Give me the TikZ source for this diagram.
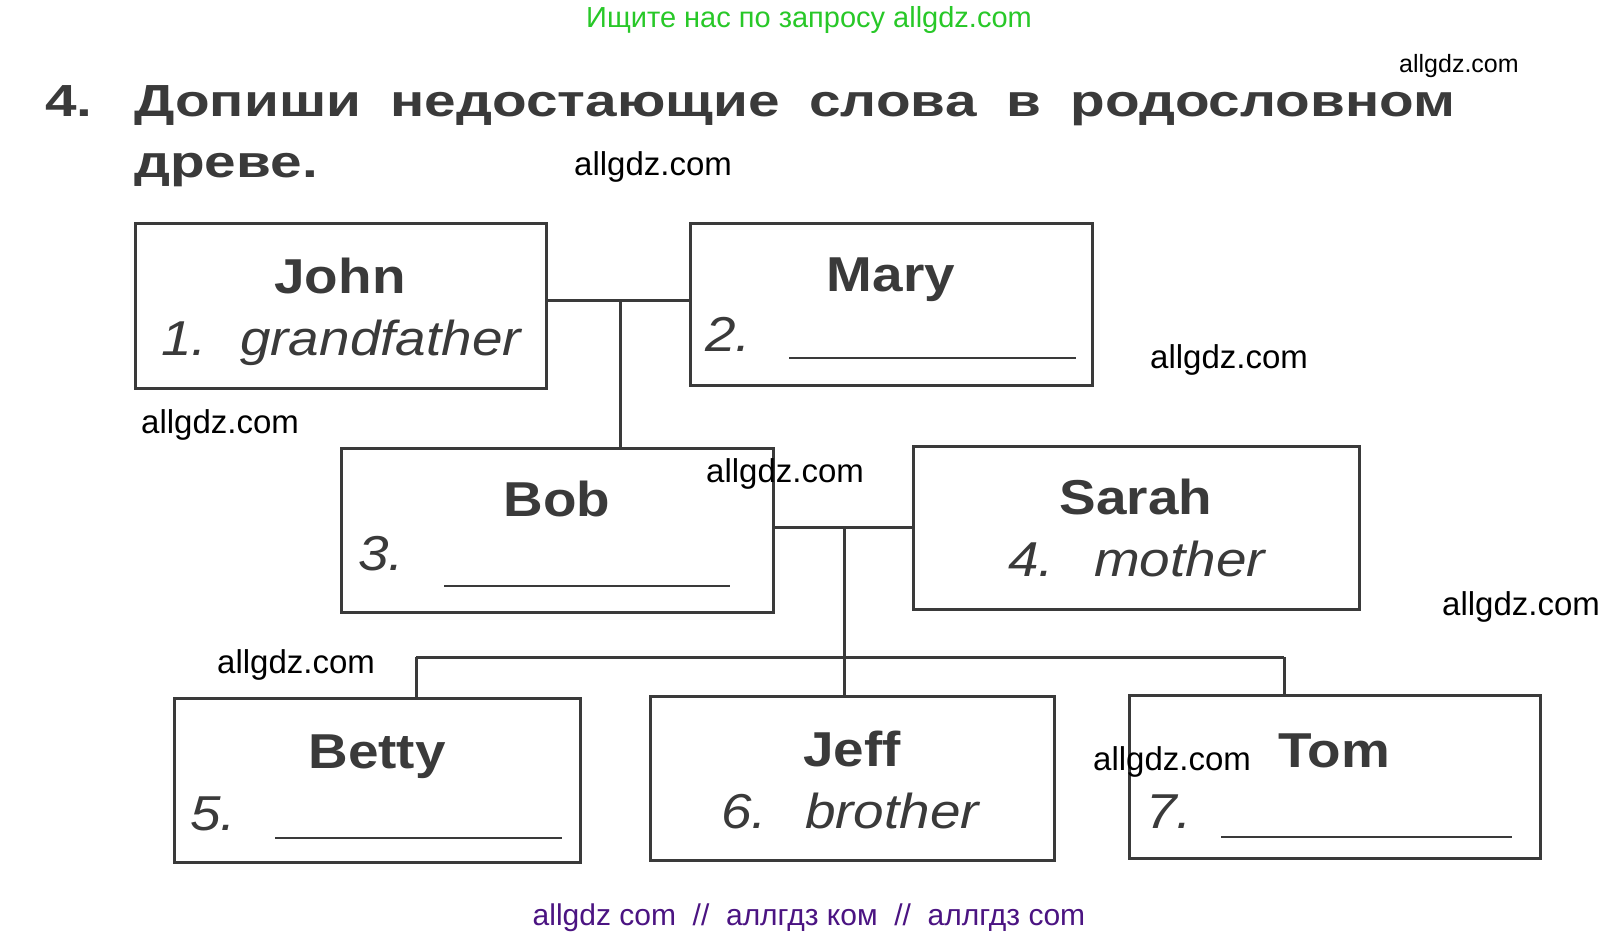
\documentclass[tikz,border=0pt]{standalone}
\usepackage{fontspec}
\setmainfont{Liberation Sans}
\newfontfamily\boxfont[FakeStretch=1.12]{Liberation Sans}
\newfontfamily\titlefont[FakeStretch=1.26]{Liberation Sans}
\newfontfamily\wmfont{Liberation Sans}
\definecolor{ink}{RGB}{58,58,58}
\definecolor{wmgreen}{RGB}{40,200,40}
\definecolor{wmpurple}{RGB}{75,20,130}
\tikzset{
  person/.style={draw=ink, line width=3pt, fill=none, inner sep=0pt},
  link/.style={draw=ink, line width=3pt},
  blank/.style={draw=ink, line width=2.4pt},
  pname/.style={inner sep=0pt, anchor=base, text=ink, font=\boxfont\bfseries\fontsize{49}{58}\selectfont},
  pnum/.style={inner sep=0pt, anchor=base west, text=ink, font=\boxfont\itshape\fontsize{49}{58}\selectfont},
  wm/.style={inner sep=0pt, anchor=base west, text=black, font=\wmfont\fontsize{33}{38}\selectfont},
  ttl/.style={inner sep=0pt, anchor=base west, text=ink, font=\titlefont\bfseries\fontsize{45}{52}\selectfont}
}
\begin{document}
\begin{tikzpicture}[x=1pt,y=-1pt]
\useasboundingbox (0,0) rectangle (1620,938);
\fill[white] (0,0) rectangle (1620,938);

% top watermark
\node[inner sep=0pt, anchor=base, text=wmgreen, font=\wmfont\fontsize{29}{34}\selectfont] (topwm) at (809,27) {Ищите нас по запросу allgdz.com};

% title
\node[ttl] (tnum) at (45,116) {4.};
\node[ttl] (tl1) at (134,116) {\makebox[1321pt][s]{Допиши недостающие слова в родословном}};
\node[ttl] (tl2) at (134,177) {древе.};

% boxes
\draw[person] (135,223) rectangle (546,388);
\node[person, draw=none, minimum width=411pt, minimum height=165pt] (John) at (340.5,305.5) {};
\draw[person] (690,223) rectangle (1092,385);
\node[person, draw=none, minimum width=402pt, minimum height=162pt] (Mary) at (891,304) {};
\draw[person] (341,448) rectangle (773,612);
\node[person, draw=none, minimum width=432pt, minimum height=164pt] (Bob) at (557,530) {};
\draw[person] (913,446) rectangle (1359,609);
\node[person, draw=none, minimum width=446pt, minimum height=163pt] (Sarah) at (1136,527.5) {};
\draw[person] (174,698) rectangle (580,862);
\node[person, draw=none, minimum width=406pt, minimum height=164pt] (Betty) at (377,780) {};
\draw[person] (650,696) rectangle (1054,860);
\node[person, draw=none, minimum width=404pt, minimum height=164pt] (Jeff) at (852,778) {};
\draw[person] (1129,695) rectangle (1540,858);
\node[person, draw=none, minimum width=411pt, minimum height=163pt] (Tom) at (1334.5,776.5) {};

% connectors
\coordinate (jm) at (620,300);
\coordinate (bs) at (844,527);
\coordinate (bus) at (844,657);
\coordinate (busL) at (416,657);
\coordinate (busR) at (1284,657);
\draw[link] (John.east |- jm) -- (Mary.west |- jm);
\draw[link] (jm) -- (Bob.north -| jm);
\draw[link] (Bob.east |- bs) -- (Sarah.west |- bs);
\draw[link] (bs) -- (Jeff.north -| bs);
\draw[link] (busL) -- (busR);
\draw[link] (busL) -- (Betty.north -| busL);
\draw[link] (busR) -- (Tom.north -| busR);

% texts in boxes
\node[pname] (nJohn) at (340,293) {John};
\node[pnum] (kJohn) at (161,355) {1.};
\node[pnum] (rJohn) at (240,355) {grandfather};

\node[pname] (nMary) at (891,291) {Mary};
\node[pnum] (kMary) at (705,351) {2.};
\coordinate (uMa) at (789,358);
\coordinate (uMb) at (1076,358);
\draw[blank] (uMa) -- (uMb);

\node[pname] (nBob) at (557,516) {Bob};
\node[pnum] (kBob) at (358,570) {3.};
\coordinate (uBa) at (444,586);
\coordinate (uBb) at (730,586);
\draw[blank] (uBa) -- (uBb);

\node[pname] (nSarah) at (1136,514) {Sarah};
\node[pnum] (kSarah) at (1008,576) {4.};
\node[pnum] (rSarah) at (1094,576) {mother};

\node[pname] (nBetty) at (377,768) {Betty};
\node[pnum] (kBetty) at (190,830) {5.};
\coordinate (uEa) at (275,838);
\coordinate (uEb) at (562,838);
\draw[blank] (uEa) -- (uEb);

\node[pname] (nJeff) at (852,766) {Jeff};
\node[pnum] (kJeff) at (721,828) {6.};
\node[pnum] (rJeff) at (805,828) {brother};

\node[pname] (nTom) at (1334,767) {Tom};
\node[pnum] (kTom) at (1146,828) {7.};
\coordinate (uTa) at (1221,837);
\coordinate (uTb) at (1512,837);
\draw[blank] (uTa) -- (uTb);

% watermarks
\node[wm] (w1) at (574,175) {allgdz.com};
\node[wm, font=\wmfont\fontsize{25}{29}\selectfont] (w2) at (1399,72) {allgdz.com};
\node[wm] (w3) at (1150,368) {allgdz.com};
\node[wm] (w4) at (141,433) {allgdz.com};
\node[wm] (w5) at (706,482) {allgdz.com};
\node[wm] (w6) at (1442,615) {allgdz.com};
\node[wm] (w7) at (217,673) {allgdz.com};
\node[wm] (w8) at (1093,770) {allgdz.com};

\node[inner sep=0pt, anchor=base, text=wmpurple, font=\wmfont\fontsize{30}{34}\selectfont] (botwm) at (809,925) {allgdz com\ \ //\ \ аллгдз ком\ \ //\ \ аллгдз com};
\end{tikzpicture}
\end{document}
